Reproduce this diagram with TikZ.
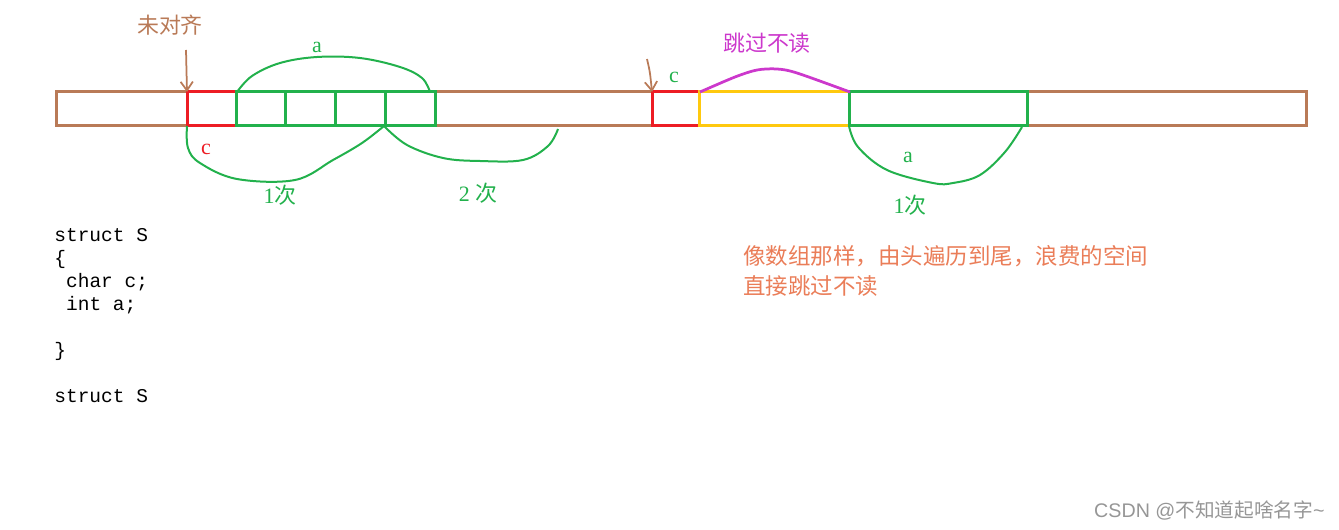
\documentclass[tikz,border=0pt]{standalone}
\usepackage{fontspec}
\setmainfont{Liberation Serif}
\setmonofont{Liberation Mono}
\newfontfamily\cjk{Noto Sans CJK SC}
\newfontfamily\wmfont{Liberation Sans}
\usetikzlibrary{arrows.meta}
\definecolor{pbrown}{RGB}{185,122,87}
\definecolor{pred}{RGB}{237,28,36}
\definecolor{pgreen}{RGB}{34,177,76}
\definecolor{pyellow}{RGB}{255,201,14}
\definecolor{pmag}{RGB}{204,56,204}
\definecolor{porange}{RGB}{234,125,88}
\definecolor{pgray}{RGB}{150,150,150}
\tikzset{
  cell/.style={line width=0.06cm},
  hand/.style={line width=0.04cm, pgreen},
  lbl/.style={inner sep=0pt, font=\fontsize{12.5}{15}\selectfont},
  cjklbl/.style={inner sep=0pt, font=\cjk\fontsize{12.5}{15}\selectfont},
  pointer/.style={pbrown, line width=0.035cm, -{Straight Barb[length=5pt,width=7pt]}}
}
\begin{document}
\begin{tikzpicture}[x=0.02cm,y=-0.02cm]
\path[use as bounding box] (0,0) rectangle (1339,530);
% bar
\draw[cell, pbrown] (56,92) rectangle (1306,126);
% left group
\draw[cell, pred] (187,92) rectangle (236,126);
\draw[cell, pgreen] (236,92) rectangle (285,126);
\draw[cell, pgreen] (285,92) rectangle (335,126);
\draw[cell, pgreen] (335,92) rectangle (385,126);
\draw[cell, pgreen] (385,92) rectangle (435,126);
% right group
\draw[cell, pred] (652,92) rectangle (699,126);
\draw[cell, pyellow] (699,92) rectangle (849,126);
\draw[cell, pgreen] (849,92) rectangle (1027,126);

\coordinate (c1top) at (187,92);
\coordinate (c2top) at (652,92);
\coordinate (arr1) at (186,50);
\coordinate (arr2) at (647,59);

% pointers
\draw[pointer] (arr1) -- (c1top);
\draw[pointer] (arr2) .. controls (650,72) .. (c2top);

% curves
\draw[hand] plot[smooth, tension=0.6] coordinates {(237,92) (252,76) (280,63) (317,57) (360,58) (400,67) (422,78) (430,92)};
\draw[hand] plot[smooth, tension=0.6] coordinates {(187,126) (188,148) (200,163) (237,179) (295,180) (333,160) (362,143) (384,126)};
\draw[hand] plot[smooth, tension=0.6] coordinates {(384,126) (407,145) (443,158) (480,161) (523,160) (548,146) (558,129)};
\draw[line width=0.055cm, pmag] plot[smooth, tension=0.5] coordinates {(700,92) (735,77) (757,70) (777,69) (797,73) (850,92)};
\draw[hand] plot[smooth, tension=0.6] coordinates {(849,126) (858,147) (887,170) (933,183) (953,183) (980,175) (1005,152) (1022,127)};

% labels
\node[cjklbl, text=pbrown] (unal) at (170,25) {未对齐};
\node[lbl, text=pgreen] (la1) at (317,47) {a};
\node[lbl, text=pred] (lc1) at (206,149) {c};
\node[lbl, text=pgreen] (once1) at (280,195) {1{\cjk 次}};
\node[lbl, text=pgreen] (twice) at (478,193) {2 {\cjk 次}};
\node[lbl, text=pgreen] (lc2) at (674,77) {c};
\node[cjklbl, text=pmag] (skip) at (767,43) {跳过不读};
\node[lbl, text=pgreen] (la2) at (908,157) {a};
\node[lbl, text=pgreen] (once2) at (910,205) {1{\cjk 次}};

% code
\node[anchor=north west, inner sep=0pt, align=left,
      font=\ttfamily\fontsize{11.1}{13.1}\selectfont] (code) at (54,228)
{struct S\\{\char`\{}\\\hspace*{0.235cm}char c;\\\hspace*{0.235cm}int a;\\\mbox{}\\{\char`\}}\\\mbox{}\\struct S};

% note
\node[anchor=north west, inner sep=0pt, align=left, text=porange,
      font=\cjk\fontsize{12.8}{17}\selectfont] (note) at (743,245)
{像数组那样，由头遍历到尾，浪费的空间\\直接跳过不读};

% watermark
\node[anchor=east, inner sep=0pt, text=pgray, font=\fontsize{11.2}{13}\selectfont] (wm) at (1325,511)
{{\wmfont CSDN @}{\cjk 不知道起啥名字}{\wmfont\textasciitilde}};
\end{tikzpicture}
\end{document}
